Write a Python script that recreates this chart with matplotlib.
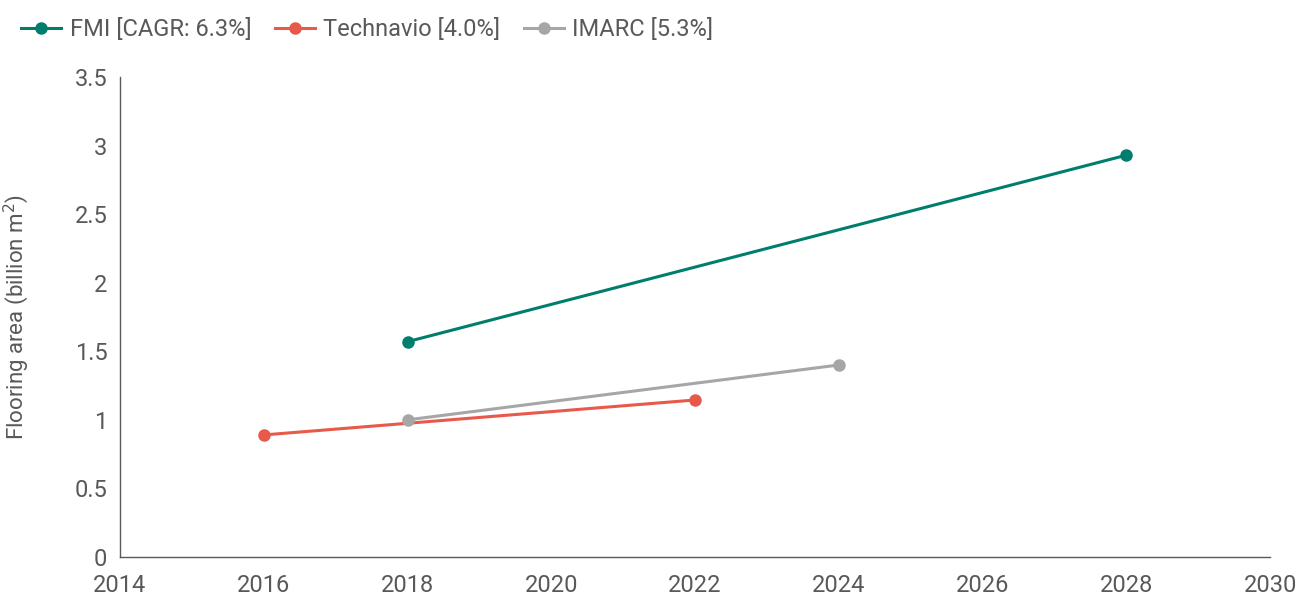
import matplotlib
matplotlib.use('Agg')
import matplotlib.pyplot as plt

plt.rcParams['font.family'] = ['Roboto', 'DejaVu Sans']

# Data
fmi_years = [2018, 2028]
fmi_values = [1.57, 2.93]
technavio_years = [2016, 2022]
technavio_values = [0.89, 1.145]
imarc_years = [2018, 2024]
imarc_values = [1.0, 1.40]

text_color = '#595959'

fig = plt.figure(figsize=(13.04, 5.97), dpi=100)
ax = fig.add_axes([0.092, 0.067, 0.882, 0.804])

ax.plot(fmi_years, fmi_values, color='#007E6D', lw=2.2, marker='o', ms=8,
        label='FMI [CAGR: 6.3%]')
ax.plot(technavio_years, technavio_values, color='#E8594A', lw=2.2, marker='o', ms=8,
        label='Technavio [4.0%]')
ax.plot(imarc_years, imarc_values, color='#A6A6A6', lw=2.2, marker='o', ms=8,
        label='IMARC [5.3%]')

ax.set_xlim(2014, 2030)
ax.set_ylim(0, 3.5)
ax.set_xticks(range(2014, 2031, 2))
ax.set_yticks([0, 0.5, 1, 1.5, 2, 2.5, 3, 3.5])
ax.set_yticklabels(['0', '0.5', '1', '1.5', '2', '2.5', '3', '3.5'])
ax.tick_params(length=0, labelsize=17, colors=text_color)
ax.tick_params(axis='x', pad=12)
ax.tick_params(axis='y', pad=9)
ax.set_ylabel('Flooring area (billion m$^2$)', fontsize=16, color=text_color)
ax.yaxis.set_label_coords(-0.077, 0.5)

for side in ['top', 'right']:
    ax.spines[side].set_visible(False)
for side in ['left', 'bottom']:
    ax.spines[side].set_color(text_color)
    ax.spines[side].set_linewidth(1)

leg = fig.legend(loc='upper left', bbox_to_anchor=(0.0, 1.005), ncol=3, frameon=False,
                 fontsize=17, handlelength=1.7, columnspacing=1.0, handletextpad=0.35)
for t in leg.get_texts():
    t.set_color(text_color)

fig.savefig('out.png', dpi=100)
